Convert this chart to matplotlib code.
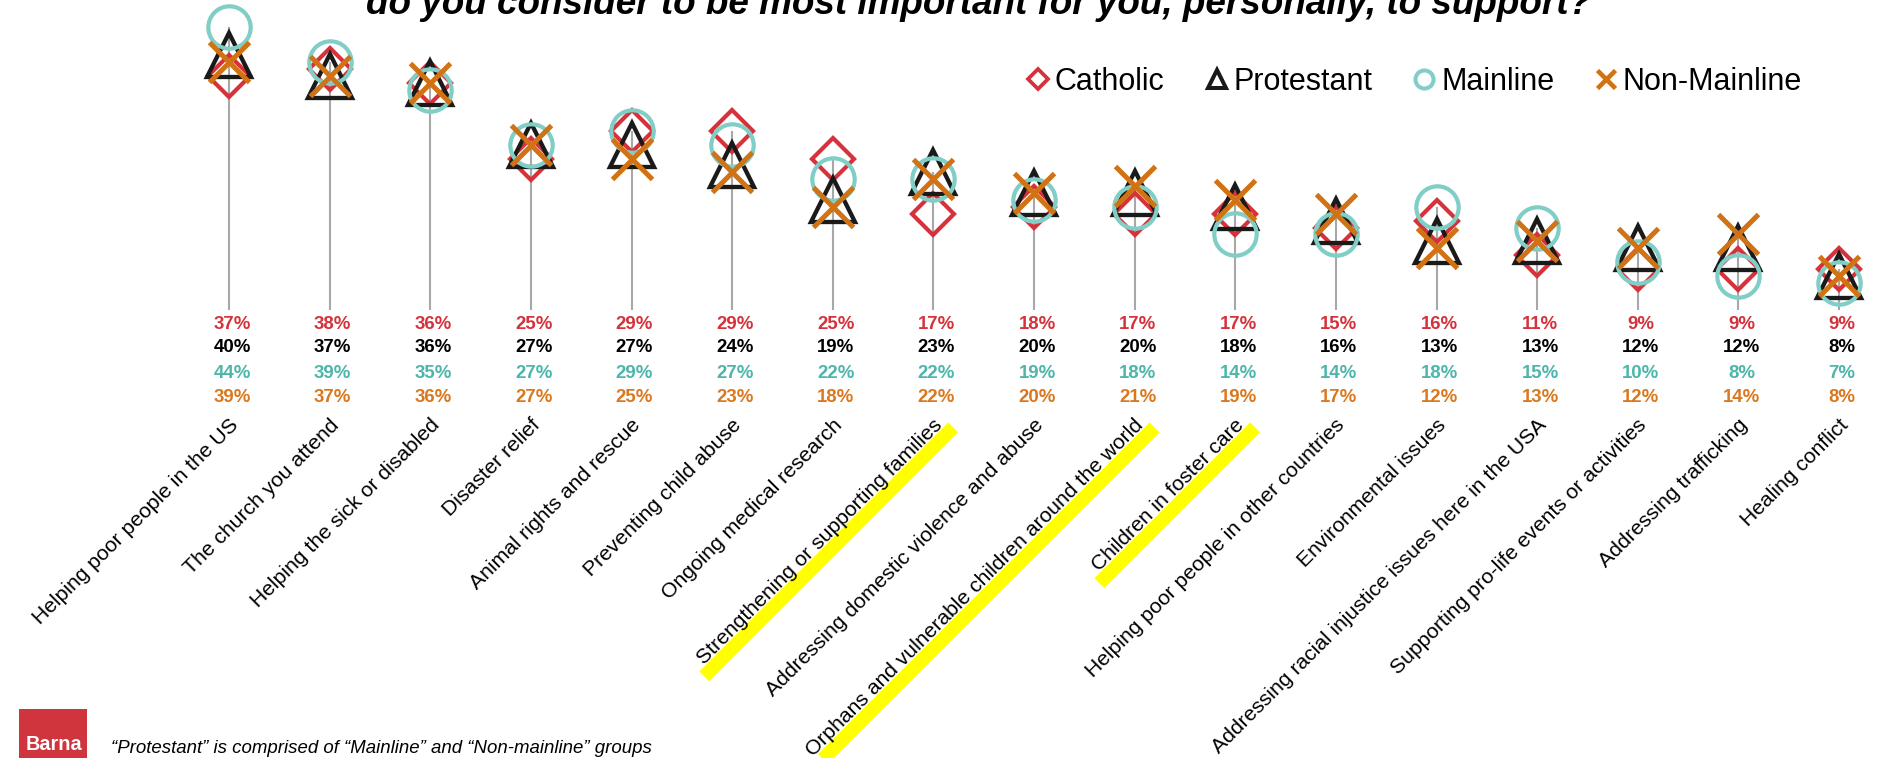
import matplotlib
matplotlib.use("Agg")
import matplotlib.pyplot as plt
from matplotlib.lines import Line2D
from matplotlib.patches import Rectangle
from matplotlib.transforms import IdentityTransform
import numpy as np

# ---------------- data ----------------
categories = [
    "Helping poor people in the US",
    "The church you attend",
    "Helping the sick or disabled",
    "Disaster relief",
    "Animal rights and rescue",
    "Preventing child abuse",
    "Ongoing medical research",
    "Strengthening or supporting families",
    "Addressing domestic violence and abuse",
    "Orphans and vulnerable children around the world",
    "Children in foster care",
    "Helping poor people in other countries",
    "Environmental issues",
    "Addressing racial injustice issues here in the USA",
    "Supporting pro-life events or activities",
    "Addressing trafficking",
    "Healing conflict",
]
catholic = [37, 38, 36, 25, 29, 29, 25, 17, 18, 17, 17, 15, 16, 11, 9, 9, 9]
protestant = [40, 37, 36, 27, 27, 24, 19, 23, 20, 20, 18, 16, 13, 13, 12, 12, 8]
mainline = [44, 39, 35, 27, 29, 27, 22, 22, 19, 18, 14, 14, 18, 15, 10, 8, 7]
non_mainline = [39, 37, 36, 27, 25, 23, 18, 22, 20, 21, 19, 17, 12, 13, 12, 14, 8]
series_names = ["Catholic", "Protestant", "Mainline", "Non-Mainline"]
highlighted = [
    "Strengthening or supporting families",
    "Orphans and vulnerable children around the world",
    "Children in foster care",
]
title = "do you consider to be most important for you, personally, to support?"
footnote = "\u201cProtestant\u201d is comprised of \u201cMainline\u201d and \u201cNon-mainline\u201d groups"

# ---------------- style ----------------
FONT = "Liberation Sans"
plt.rcParams["font.family"] = [FONT, "DejaVu Sans"]
RED = "#D5323B"
BLACK = "#1A1A1A"
TEAL_M = "#80CEC6"
TEAL_T = "#4DB5AA"
ORANGE_M = "#D17314"
ORANGE_T = "#D9781E"
STEM = "#A8A8A8"
STEM_BOTTOM = 3.0

W, H = 1878, 758
fig = plt.figure(figsize=(W / 100, H / 100), dpi=100)
ax = fig.add_axes([0, 0, 1, 1])
ax.axis("off")
ax.patch.set_visible(False)

X0, DX = 229.0, 100.625          # pixel x of first stem, spacing
Y0, DY = 331.0, 6.9              # pixel y of value 0, pixels per %
ax.set_xlim(-X0 / DX, (W - X0) / DX)
ax.set_ylim((Y0 - H) / DY, Y0 / DY)


def yv(py):
    return (Y0 - py) / DY


x = np.arange(len(categories))
all_vals = np.array([catholic, protestant, mainline, non_mainline])
ax.vlines(x, STEM_BOTTOM, all_vals.max(axis=0), color=STEM, lw=1.5, zorder=1)

ax.plot(x, catholic, ls="none", marker="D", ms=21, mfc="none", mec=RED, mew=3.0, zorder=2)
ax.plot(x, protestant, ls="none", marker="^", ms=31, mfc="none", mec=BLACK, mew=3.1, zorder=3)
ax.plot(x, mainline, ls="none", marker="o", ms=30.5, mfc="none", mec=TEAL_M, mew=3.0, zorder=4)
ax.plot(x, non_mainline, ls="none", marker="x", ms=29.5, mec=ORANGE_M, mew=3.6, zorder=5)

# value labels
rows = [(catholic, RED, 324.5), (protestant, "#000000", 348.0),
        (mainline, TEAL_T, 373.0), (non_mainline, ORANGE_T, 397.5)]
for vals, col, py in rows:
    for i, v in enumerate(vals):
        ax.text(i + 3 / DX, yv(py), f"{v}%", ha="center", va="center",
                fontsize=13.4, fontweight="bold", color=col)

# category labels
label_texts = []
for i, c in enumerate(categories):
    t = ax.text(i + 10 / DX, yv(426), c, rotation=45, rotation_mode="anchor",
                ha="right", va="baseline", fontsize=15.2, color="#000000", zorder=6)
    label_texts.append(t)

# legend
handles = [
    Line2D([], [], ls="none", marker="D", ms=10.5, mfc="none", mec=RED, mew=2.7),
    Line2D([], [], ls="none", marker="^", ms=13.5, mfc="none", mec=BLACK, mew=2.9),
    Line2D([], [], ls="none", marker="o", ms=13, mfc="none", mec=TEAL_M, mew=2.9),
    Line2D([], [], ls="none", marker="x", ms=12.5, mec=ORANGE_M, mew=3.3),
]
ax.legend(handles, series_names, loc="center", ncol=4, frameon=False,
          bbox_to_anchor=(1414 / W, 1 - 82 / H), bbox_transform=fig.transFigure,
          fontsize=22, handlelength=0.8, handletextpad=0.15, columnspacing=1.3,
          borderpad=0, borderaxespad=0)

# title (partly cut at top)
fig.text(978 / W, 1 - 13.5 / H, title, ha="center", va="baseline",
         fontsize=26.6, fontweight="bold", fontstyle="italic", color="#000000")

# footnote + logo
fig.text(111 / W, 1 - 753 / H, footnote, ha="left", va="baseline",
         fontsize=13.4, fontstyle="italic", color="#000000")
fig.add_artist(Rectangle((19 / W, 0), 68 / W, (H - 709) / H, transform=fig.transFigure,
                         facecolor="#D0343C", edgecolor="none", zorder=1))
fig.text(54 / W, 1 - 750 / H, "Barna", ha="center", va="baseline", fontsize=14.3,
         fontweight="bold", color="white", zorder=2)

# yellow highlight bands under selected labels
fig.canvas.draw()
renderer = fig.canvas.get_renderer()
dvec = np.array([np.cos(np.pi / 4), np.sin(np.pi / 4)])
nvec = np.array([np.sin(np.pi / 4), -np.cos(np.pi / 4)])
for i, t in enumerate(label_texts):
    if t.get_text() in highlighted:
        w, h, d = renderer.get_text_width_height_descent(t.get_text(), t.get_fontproperties(), ismath=False)
        A = ax.transData.transform(t.get_position())
        start = A + 8.0 * nvec - (w + 8) * dvec
        end = A + 8.0 * nvec + 6 * dvec
        fig.add_artist(Line2D([start[0], end[0]], [start[1], end[1]], transform=IdentityTransform(),
                              lw=14 * 0.72, color="#FFFF00", solid_capstyle="butt", zorder=-1))

fig.savefig("out.png", dpi=100)
